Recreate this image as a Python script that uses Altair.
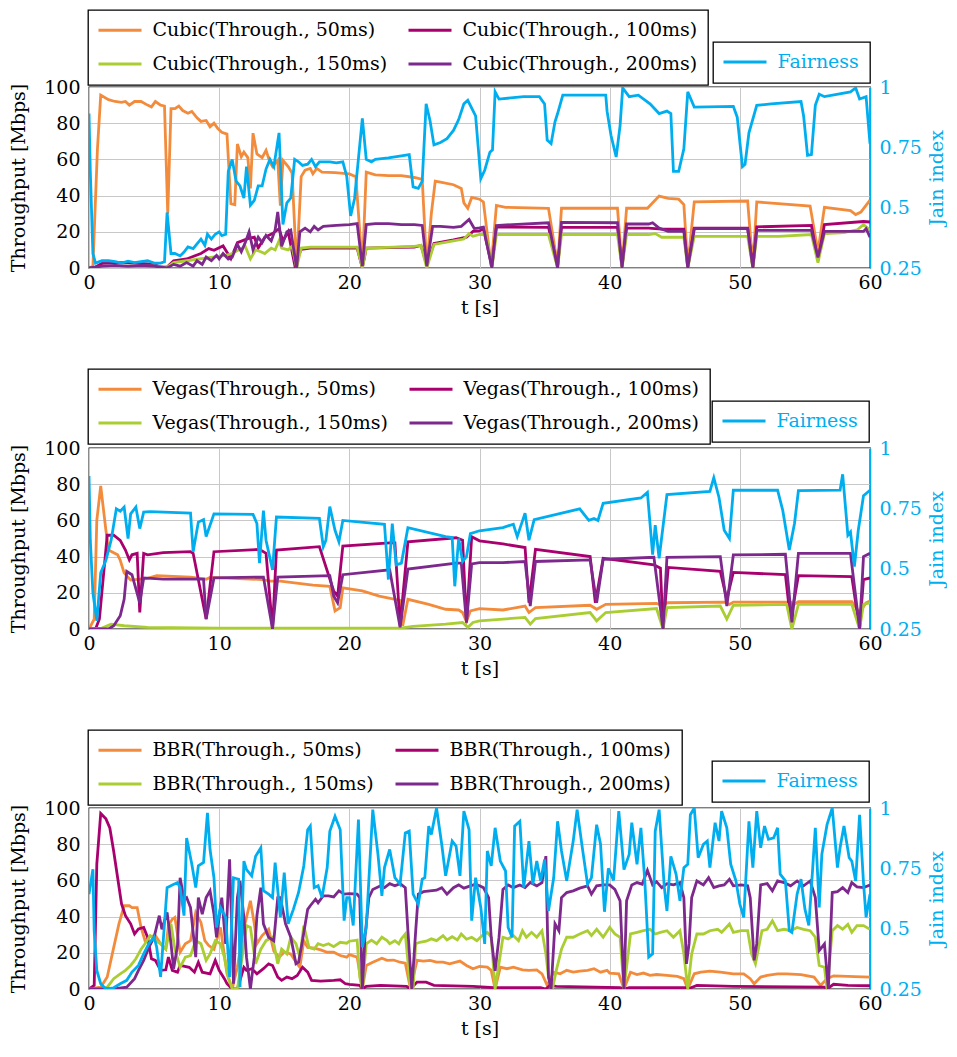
import altair as alt
import pandas as pd

FONT = "DejaVu Serif"
BLUE = "#00AEEF"
COLORS = ["#F28C3C", "#A8006E", "#AACD32", "#7D288C"]
DELAYS = ["50ms", "100ms", "150ms", "200ms"]
X_TICKS = [0, 10, 20, 30, 40, 50, 60]
Y_TICKS = [0, 20, 40, 60, 80, 100]
J_TICKS = [0.25, 0.5, 0.75, 1]

# ---------------- Cubic ----------------
CUBIC_50 = [(0,0),(0.3,1),(0.65,66),(0.9,95.5),(1.5,93),(2.0,92),(2.5,91.5),(2.8,92),(3.1,90),(3.5,92),(4.0,92),(4.5,90),(4.8,89),(5.1,92),(5.5,90),(5.8,89.5),(6.05,30),(6.3,88),(6.6,88),(6.9,89.5),(7.2,87),(7.6,85.5),(7.9,86.5),(8.3,83),(8.6,81),(9.0,81.5),(9.3,78),(9.6,80),(9.9,77),(10.2,75),(10.6,74),(10.9,35.5),(11.2,35),(11.4,68.5),(11.7,61.5),(11.9,64),(12.2,61),(12.4,44),(12.6,74.5),(12.9,63),(13.3,61),(13.6,65),(13.9,58.5),(14.1,56),(14.5,59.5),(14.7,34.5),(14.9,59.5),(15.3,56),(15.6,52.5),(15.95,0),(16.3,50.5),(16.6,54),(17.0,55),(17.2,52),(17.5,55),(17.9,53),(18.9,52.7),(20.0,52),(20.5,50.5),(21.0,0),(21.3,53),(22.0,51.5),(23.0,51),(24.0,51),(25.0,50),(25.6,49),(25.95,0),(26.3,30),(26.6,48),(27.0,47.5),(28.0,46),(28.6,44),(28.8,36),(29.1,33),(29.4,39),(30.0,38),(30.3,36.5),(30.9,1),(31.3,34.6),(32.0,33.5),(35.3,33),(36.0,1.5),(36.3,33),(40.6,33),(40.95,1.5),(41.3,33),(42.9,33),(43.8,39.7),(44.5,38.5),(45.3,38),(45.7,35),(46.0,1),(46.5,36.5),(50.6,37),(51.0,1),(51.3,36.5),(55.4,34.2),(56.0,9),(56.5,33.5),(58.5,31.7),(58.9,29.5),(59.3,30.9),(60.0,37.5)]
CUBIC_100 = [(0,0),(0.5,0.5),(1.0,2.5),(2.0,3),(3.0,3),(4.0,2.5),(5.0,2),(5.5,0.5),(6.0,0.5),(6.5,4),(7.5,5),(8.6,8),(9.2,10.7),(9.6,9.8),(10.3,12.2),(10.9,5.2),(11.4,14),(12.2,16.2),(12.7,17),(13.0,11),(13.5,17),(14.1,19),(14.6,21.7),(14.9,15),(15.3,20),(15.8,1.8),(16.3,10.3),(17.0,11),(20.6,11),(21.0,0),(21.3,11),(25.0,11.6),(25.5,12.5),(25.95,2),(26.5,13.5),(28.0,15.5),(29.0,17),(29.5,20.2),(30.0,20.5),(30.3,21.7),(30.95,1),(31.3,22.6),(35.3,22.5),(36.0,1),(36.3,22.5),(40.6,22.5),(40.95,1),(41.3,22),(43.0,22),(44.0,21.5),(45.7,21.5),(46.0,0.5),(46.5,22),(50.6,22),(51.0,0.5),(51.3,22.7),(55.5,23.5),(56.0,4),(56.5,24),(59.5,25.7),(60.0,25.4)]
CUBIC_150 = [(0,0),(1,0.5),(3,1),(5,1),(6,0.5),(6.5,3),(7.5,4),(8.5,5),(9.5,6),(10.5,7),(11.0,8),(11.5,10),(12.0,12),(12.4,5),(12.8,10),(13.2,9),(13.5,8),(14.0,11),(14.3,10),(14.6,15),(14.8,11),(15.3,10),(15.6,12),(15.95,0),(16.3,11),(17,11.5),(20.6,11.5),(21.0,0),(21.3,11),(25.0,12),(25.5,12.5),(25.95,0),(26.5,13),(28.0,15),(28.8,16),(29.2,19),(29.5,17.5),(30.0,18.5),(30.5,18.5),(30.95,0),(31.3,18.5),(35.3,18.5),(36.0,0),(36.3,18.5),(40.6,18.5),(40.95,0),(41.3,18.5),(43.0,18.5),(43.5,19),(44.0,17),(45.7,17),(46.0,0),(46.5,17.5),(50.6,17.5),(51.0,0),(51.3,17.5),(53.0,17.5),(55.5,18.5),(56.0,3),(56.5,19),(58.0,19.5),(59.0,21),(59.5,24),(60.0,21)]
CUBIC_200 = [(0,0),(1,1),(2,1.5),(3,1),(4,1.5),(5,1),(6,0),(6.5,2),(7.0,1),(7.5,3),(8.0,1),(8.3,4),(8.7,2),(9.0,6),(9.4,4),(9.8,7),(10.0,5),(10.3,8),(10.7,5),(11.0,6),(11.4,13),(11.7,9),(12.0,14),(12.3,20),(12.6,10),(13.0,17),(13.3,14),(13.6,18),(14.0,15),(14.3,21),(14.5,31),(14.8,12),(15.2,20),(15.5,21),(15.95,0),(16.2,20),(16.6,22),(17.0,20),(17.3,23),(17.6,21),(18.0,23),(19.0,23.5),(20.0,24),(20.6,24.5),(21.0,1),(21.3,24),(22.0,24.5),(23.0,24.5),(24.0,24),(25.0,24),(25.6,23.5),(25.95,1),(26.4,23),(27.0,23),(28.0,22.5),(28.6,23),(29.2,26.8),(29.6,21.8),(30.0,22.2),(30.3,22.6),(30.95,0),(31.3,23.5),(35.3,25),(36.0,0),(36.3,25.2),(40.6,25),(40.95,0),(41.3,24.3),(43.0,24.3),(43.3,25),(43.8,22),(44.5,20.2),(45.7,20.2),(46.0,0),(46.5,21.7),(50.6,21.7),(51.0,0),(51.3,20.8),(55.5,20.8),(56.0,5.8),(56.5,20.2),(59.5,20.2),(59.7,21.7),(60.0,17)]
CUBIC_FAIR = [(0,0.89),(0.1,0.65),(0.3,0.31),(0.5,0.27),(1.0,0.28),(1.5,0.28),(2.0,0.276),(2.5,0.27),(3.0,0.278),(3.5,0.272),(4.0,0.276),(4.5,0.28),(5.0,0.27),(5.5,0.27),(5.8,0.276),(6.0,0.48),(6.3,0.31),(6.6,0.31),(7.0,0.30),(7.3,0.316),(7.6,0.337),(8.0,0.33),(8.3,0.35),(8.6,0.37),(8.9,0.344),(9.1,0.39),(9.4,0.37),(9.7,0.39),(10.0,0.40),(10.2,0.384),(10.5,0.39),(10.7,0.65),(11.0,0.70),(11.3,0.61),(11.6,0.59),(11.9,0.54),(12.1,0.67),(12.4,0.51),(12.7,0.53),(13.0,0.59),(13.3,0.59),(13.6,0.66),(13.9,0.70),(14.2,0.67),(14.6,0.81),(14.9,0.43),(15.2,0.52),(15.5,0.54),(15.8,0.70),(16.1,0.69),(16.4,0.675),(16.8,0.68),(17.1,0.70),(17.4,0.67),(17.7,0.69),(18.0,0.69),(18.5,0.69),(19.0,0.686),(19.5,0.69),(19.8,0.63),(20.1,0.466),(20.4,0.537),(21.0,0.87),(21.3,0.70),(21.7,0.69),(22.0,0.70),(23.0,0.706),(24.0,0.715),(24.6,0.72),(24.9,0.586),(25.3,0.58),(25.6,0.61),(25.9,0.93),(26.2,0.86),(26.5,0.76),(27.0,0.77),(27.5,0.786),(28.0,0.82),(28.4,0.865),(28.8,0.93),(29.1,0.945),(29.7,0.88),(30.1,0.62),(30.4,0.655),(30.8,0.73),(31.0,0.74),(31.2,0.98),(31.5,0.95),(33.4,0.96),(34.6,0.96),(35.0,0.93),(35.2,0.78),(35.5,0.766),(35.8,0.856),(36.0,0.89),(36.4,0.966),(39.7,0.966),(39.8,0.90),(40.1,0.80),(40.5,0.71),(40.8,0.84),(41.0,0.996),(41.5,0.96),(42.2,0.966),(43.1,0.93),(43.8,0.89),(44.4,0.90),(44.7,0.89),(44.9,0.65),(45.3,0.65),(45.7,0.744),(46.0,0.98),(46.5,0.917),(49.5,0.92),(49.8,0.875),(50.2,0.67),(50.4,0.68),(50.7,0.81),(51.3,0.924),(52.4,0.93),(54.7,0.94),(54.9,0.88),(55.2,0.717),(55.5,0.72),(55.8,0.924),(56.1,0.97),(56.5,0.96),(58.5,0.98),(58.9,0.996),(59.2,0.95),(59.7,0.96),(60.0,0.765)]

# ---------------- Vegas ----------------
VEGAS_50 = [(0,0),(0.4,5.5),(0.6,60),(0.9,79),(1.3,54.5),(1.5,43.6),(2.2,41),(2.4,38),(2.7,31),(3.2,27),(4.5,28),(5.2,29.5),(7.8,28.7),(9.0,27.5),(9.3,28.5),(13.4,27.3),(13.9,26.4),(14.7,26.4),(17.2,24.2),(18.5,23.6),(18.9,10),(19.3,11.8),(19.5,22.7),(21.0,21),(22.3,18.2),(23.9,15.8),(24.1,1.8),(24.5,16.4),(26.1,13.6),(27.4,10.9),(28.4,10.5),(28.7,9.1),(29.0,4),(29.3,10),(30.0,11.3),(31.8,10.5),(33.5,12.7),(33.8,9.1),(34.3,11.8),(38.5,13.1),(39.0,10.9),(39.7,13.6),(43.6,14.2),(44.1,12.7),(44.4,14.5),(48.8,14.9),(49.2,13.6),(49.5,14.9),(53.9,14.9),(54.0,12.7),(54.5,15.1),(58.6,15.1),(59.2,9.1),(59.7,14.5),(60.0,15.5)]
VEGAS_100 = [(0,0),(0.5,0),(0.8,5.5),(1.4,51.8),(1.9,51.8),(2.4,49),(2.8,43.6),(3.1,38.2),(3.3,41),(3.7,41.8),(3.9,9.1),(4.2,41.8),(4.5,41),(5.7,42.2),(7.8,42.7),(8.0,41.8),(9.0,5.5),(9.6,42.7),(13.1,44),(13.6,41.8),(14.1,0),(14.4,43.6),(17.7,45.5),(18.8,21),(19.1,18.2),(19.5,45.8),(23.1,47.6),(23.5,47.6),(23.9,1.8),(24.5,48.2),(28.2,50.4),(28.7,49),(29.0,3.6),(29.4,51),(30.0,48.7),(31.8,47),(33.5,45),(33.8,14.5),(34.3,44),(38.5,40),(38.9,14.5),(39.5,39),(43.4,35.5),(43.9,33.6),(44.1,0),(44.5,34),(48.5,31.8),(49.0,16.4),(49.5,31.3),(53.5,30),(53.9,4.5),(54.5,29.5),(58.6,29),(59.2,0),(59.5,27.3),(60.0,28.2)]
VEGAS_150 = [(0,0),(1.0,0.5),(1.7,2.7),(2.7,1.8),(4.5,0.9),(10,0.5),(20,0.5),(23.9,0.5),(24.9,1.5),(27.4,2.7),(28.7,3.6),(29.1,0.9),(29.5,3.6),(30.0,4.5),(33.5,6.4),(33.9,2.7),(34.3,5.8),(38.5,9.1),(39.0,4.5),(39.7,9.1),(43.6,11.3),(44.1,0),(44.4,11.8),(48.5,12.7),(49.0,5.5),(49.5,13.1),(53.6,13.6),(54.0,0),(54.5,13.6),(58.6,13.6),(59.2,0),(59.5,13.6),(60.0,14.5)]
VEGAS_200 = [(0,0),(1.5,0),(1.9,1.8),(2.4,7.3),(2.7,16.4),(2.9,31.8),(3.3,30),(3.9,14.5),(4.2,28.2),(5.7,27.6),(8.8,27.6),(9.0,5.5),(9.6,28.2),(13.4,28.7),(14.1,0),(14.5,28.7),(18.5,29.5),(18.8,18.2),(19.1,14.5),(19.5,30),(23.1,32.7),(23.9,0.9),(24.5,33.1),(28.2,36.4),(28.6,36.4),(29.0,3.6),(29.4,36),(30.0,36.7),(31.8,36.7),(33.5,37.3),(33.9,12.7),(34.3,37.3),(38.5,38.2),(39.0,14.5),(39.5,38.5),(43.4,39.6),(44.1,0),(44.4,39.6),(48.5,40),(49.0,12.7),(49.5,40.9),(53.5,41.3),(54.0,3.6),(54.5,41.8),(58.5,41.8),(59.2,0),(59.5,40),(60.0,41.8)]
VEGAS_FAIR = [(0,0.884),(0.1,0.618),(0.3,0.40),(0.6,0.284),(0.9,0.483),(1.3,0.535),(1.7,0.618),(2.1,0.748),(2.4,0.738),(2.7,0.755),(3.0,0.625),(3.2,0.727),(3.6,0.755),(3.9,0.666),(4.2,0.734),(4.7,0.736),(7.8,0.73),(8.0,0.57),(8.4,0.693),(8.8,0.703),(9.0,0.633),(9.6,0.727),(12.6,0.725),(12.9,0.687),(13.1,0.523),(13.4,0.741),(13.6,0.618),(14.1,0.495),(14.4,0.714),(17.7,0.708),(18.0,0.591),(18.2,0.618),(18.5,0.757),(18.9,0.659),(19.2,0.612),(19.5,0.70),(22.7,0.684),(23.0,0.455),(23.3,0.687),(23.6,0.516),(24.0,0.523),(24.5,0.67),(27.4,0.633),(27.9,0.629),(28.1,0.427),(28.4,0.625),(28.7,0.53),(29.0,0.55),(29.3,0.645),(30.0,0.657),(31.8,0.67),(32.6,0.684),(32.9,0.633),(33.5,0.73),(33.8,0.618),(34.2,0.703),(37.7,0.748),(38.4,0.70),(38.8,0.708),(39.1,0.70),(39.5,0.771),(42.4,0.793),(42.9,0.816),(43.3,0.558),(43.5,0.68),(43.8,0.543),(44.4,0.807),(47.7,0.82),(48.0,0.877),(48.4,0.795),(48.8,0.659),(49.2,0.625),(49.5,0.825),(52.9,0.825),(53.3,0.741),(53.8,0.577),(54.2,0.687),(54.5,0.823),(57.7,0.825),(57.9,0.891),(58.3,0.639),(58.5,0.652),(58.8,0.509),(59.1,0.659),(59.5,0.802),(60.0,0.825)]

# ---------------- BBR ----------------
BBR_50 = [(0,0),(0.9,1),(1.4,6.6),(1.9,23),(2.3,36),(2.7,46),(3.1,46),(3.3,45),(3.7,45),(4.0,34),(4.3,26.7),(4.7,29),(5.1,29.5),(5.5,25),(5.9,22),(6.1,35),(6.4,38.6),(6.6,39.6),(7.0,20.3),(7.4,25),(7.8,26.7),(8.2,42.3),(8.6,36.8),(8.9,26.7),(9.2,24),(9.6,22),(10.1,34),(10.6,8.4),(11.0,0),(11.4,12),(11.8,30.4),(12.1,39.6),(12.4,48.7),(12.7,36),(12.9,25),(13.3,29.5),(13.8,33),(14.2,21),(14.6,17.6),(15.0,20.3),(15.5,19.4),(16.0,13.9),(16.2,12),(16.5,26.7),(16.8,23),(17.3,22.6),(17.8,21.6),(18.3,20.3),(18.8,20.3),(19.3,18.5),(19.8,17.6),(20.0,19),(20.6,17.6),(21.0,0),(21.3,13),(21.8,14.8),(22.5,17),(22.9,15.8),(23.4,16),(23.9,14.8),(24.3,14.3),(24.7,0),(25.2,15.8),(25.7,15.4),(26.2,15.8),(26.7,14.8),(27.2,14.8),(27.7,13.9),(28.5,15.4),(29.0,13),(29.5,11.2),(30.0,12.5),(30.6,12.1),(30.9,10.3),(31.2,0),(31.6,12.1),(32.1,11.2),(32.6,12.1),(33.3,10.6),(33.8,10.3),(34.4,10.6),(34.8,8.4),(35.2,2),(35.7,9.3),(36.2,8.4),(36.7,10.3),(37.2,9.3),(37.7,9.9),(38.3,10.3),(38.8,11.2),(39.3,9.3),(39.8,10.3),(40.0,8.8),(40.7,8.4),(41.1,0),(41.6,9.3),(42.1,8),(42.6,8.8),(43.1,7.5),(43.6,8),(44.4,7.5),(45.2,7),(45.7,5.7),(46.0,0),(46.5,8.4),(47.0,9.3),(47.7,9.9),(48.5,9.3),(49.5,8.4),(50.3,8.4),(50.8,5.7),(51.1,2.9),(51.6,6.6),(52.1,7.5),(52.9,8.4),(53.6,8.4),(54.7,8),(55.7,6.6),(56.2,2),(56.7,5.7),(57.2,7.3),(58.3,7),(60.0,6.6)]
BBR_100 = [(0,0),(0.4,2),(0.6,69),(0.9,97),(1.3,94),(1.6,89),(1.9,76),(2.2,61.5),(2.5,47),(2.8,40.5),(3.2,36),(3.5,30.4),(3.8,33.2),(4.2,34),(4.5,28.6),(4.8,16.7),(5.1,15.8),(5.5,10.3),(5.9,10.6),(6.1,17.6),(6.4,10.3),(6.8,9.3),(7.0,13),(7.7,12),(8.1,9.3),(8.4,14.8),(8.7,9.3),(9.3,8.4),(9.7,15.8),(10.0,10.3),(10.4,5.7),(10.6,2.9),(11.0,0),(11.4,0),(11.9,12),(12.1,10.3),(12.5,11.2),(12.9,8.4),(13.4,11.2),(13.8,13.9),(14.1,13),(14.5,6.6),(14.8,4.8),(15.2,6.6),(15.6,5.7),(16.0,7.5),(16.4,12),(16.8,9.3),(17.1,4.8),(17.8,4.4),(18.8,4.8),(19.3,5.1),(19.7,2.9),(20.0,2.6),(20.8,2),(21.0,0),(21.3,1.5),(22.4,2),(24.4,1.5),(24.7,0),(25.2,3.8),(25.9,3.8),(26.5,2),(29.5,1.5),(31.1,0.7),(34.7,0.7),(35.1,0),(35.4,2),(35.9,1.5),(40.8,0.7),(41.1,0),(41.5,0.7),(45.8,0.7),(46.0,0),(46.7,2),(49.5,1.5),(56.5,1),(56.7,0),(57.2,2.6),(58.3,2),(60,1.8)]
BBR_150 = [(0,0),(0.9,0),(1.4,1),(1.9,5.7),(2.4,8.4),(2.8,10.3),(3.2,13),(3.6,16.7),(4.0,22),(4.3,25),(4.7,29.5),(5.1,26.7),(5.5,25),(5.9,22),(6.3,36),(6.6,22),(7.0,12),(7.4,17.6),(7.8,18.5),(8.2,26.7),(8.6,25),(9.0,15.8),(9.3,19.4),(9.7,26.7),(10.1,25),(10.4,17.6),(10.7,6.6),(11.0,0),(11.4,0),(11.8,19.4),(12.1,35),(12.4,34),(12.8,13.9),(13.2,22),(13.6,26.7),(14.1,28.6),(14.5,13.9),(14.8,22),(15.2,19.4),(15.5,28.6),(15.9,25),(16.2,17.6),(16.5,35),(16.9,23),(17.3,22),(17.6,25),(18.0,24),(18.4,25),(18.8,23.4),(19.3,25.8),(19.8,25.3),(20.0,26.4),(20.6,27),(20.8,6.6),(21.0,0),(21.3,25),(21.7,27),(22.1,25),(22.5,28.6),(22.9,26.7),(23.1,25),(23.5,26.7),(23.8,25),(24.0,27.7),(24.3,30.4),(24.7,0),(24.9,0),(25.1,25),(25.4,25.8),(25.9,26.4),(26.3,27.7),(26.7,26.7),(27.2,29.5),(27.5,27.1),(27.9,28.9),(28.3,27.1),(28.6,30.4),(29.0,27.5),(29.4,28.6),(29.8,26.7),(30.2,29.5),(30.6,31.3),(30.9,28.6),(31.2,0),(31.8,28.6),(32.2,27.7),(32.6,29.5),(33.0,26.7),(33.3,32.2),(33.6,28.6),(34.0,31.3),(34.4,28.6),(34.8,32.2),(35.1,19.4),(35.3,6.6),(35.6,0),(35.9,10.3),(36.3,22),(36.7,28.6),(37.2,28.6),(37.7,30.4),(38.3,32.2),(38.6,29.5),(39.0,33),(39.5,28.6),(40.0,34),(40.4,30.4),(40.8,28.6),(41.1,0),(41.6,30.4),(42.1,31.3),(42.6,32.2),(43.1,33),(43.5,30.4),(43.9,31.3),(44.4,32.2),(44.9,28.6),(45.4,32.2),(45.7,19.4),(46.0,0),(46.3,19.4),(46.7,30.4),(47.2,30.4),(47.7,32.2),(48.3,33),(48.6,31.3),(49.2,35.9),(49.5,31.3),(50.1,32.2),(50.6,32.2),(50.9,19.4),(51.2,13.9),(51.7,32.2),(52.1,33),(52.5,37.7),(52.9,32.2),(53.4,33),(53.9,32.2),(54.4,34),(54.9,33),(55.4,32.2),(55.8,28.6),(56.1,13),(56.5,12),(56.7,0),(57.1,32.2),(57.5,35),(57.9,33),(58.3,35.7),(58.6,31.3),(59.0,35),(59.5,35),(60.0,33)]
BBR_200 = [(0,0),(1.9,0),(2.9,1),(3.5,5.7),(3.8,10.3),(4.2,15.8),(4.6,23),(5.0,28.6),(5.4,40.5),(5.6,33),(6.0,42.3),(6.3,25),(6.5,11.2),(6.8,24),(7.0,61.5),(7.3,49.6),(7.5,50.5),(7.8,45),(8.2,17.6),(8.4,50.5),(8.7,41.4),(9.0,50.5),(9.3,54.2),(9.6,41.4),(9.8,28.6),(10.2,50.5),(10.5,24.9),(10.8,71.6),(11.1,2.9),(11.4,50.5),(11.6,59.7),(11.9,39.6),(12.1,17.6),(12.4,0),(12.7,17.6),(12.9,40.5),(13.2,56),(13.4,36),(13.8,28.6),(14.2,26.7),(14.5,50.5),(14.7,50.5),(15.1,36),(15.5,28.6),(15.9,13.9),(16.1,14.8),(16.4,26.7),(16.8,44),(17.0,46),(17.4,49.6),(17.6,47.6),(18.0,51.5),(18.4,51.5),(18.8,50.9),(19.2,54.2),(19.6,52.4),(20.0,52.7),(20.6,52.4),(20.8,50.5),(21.0,0),(21.2,28.6),(21.5,50.5),(21.8,55),(22.4,57),(22.7,56),(23.1,58.2),(23.5,57),(23.9,58.2),(24.3,56),(24.5,32.2),(24.8,0),(25.1,32.2),(25.3,52.4),(25.7,53.8),(26.2,54.2),(26.7,54.6),(27.1,56),(27.5,52.4),(28.0,56),(28.4,57.5),(28.8,55.7),(29.3,57),(29.7,57.9),(30.0,57),(30.3,56),(30.7,50.5),(30.9,28.6),(31.2,10),(31.5,28.6),(31.8,55),(32.2,57.5),(32.6,56),(33.1,57.5),(33.5,56),(33.9,58.8),(34.4,57),(34.8,58.8),(35.1,73.4),(35.3,6.6),(35.5,0),(35.8,36),(36.1,32.2),(36.3,50.5),(36.7,53.3),(37.2,54.2),(37.7,55.7),(38.3,57),(38.6,52.4),(39.0,57),(39.5,57.5),(40.0,57.5),(40.4,55),(40.8,48.7),(41.1,0),(41.3,48.7),(41.7,57.5),(42.1,58.8),(42.5,57.9),(42.9,65.6),(43.3,57.5),(43.6,59.3),(44.0,56),(44.4,58.2),(44.9,57.5),(45.4,58.8),(45.7,50.5),(45.9,13.9),(46.1,24.9),(46.3,50.5),(46.7,59.7),(47.2,57.5),(47.6,61.5),(48.0,56),(48.4,57),(48.8,57.5),(49.2,60.6),(49.5,57),(50.1,57.5),(50.6,57),(50.8,50.5),(51.1,15.8),(51.3,24.9),(51.6,57.5),(52.1,58.2),(52.5,54.2),(52.9,59.7),(53.4,58.8),(53.9,57),(54.4,59.7),(54.9,57),(55.4,59.7),(55.8,50.5),(56.1,21.2),(56.5,24.9),(56.8,0),(57.1,53.3),(57.5,53.8),(57.9,56),(58.3,53.3),(58.6,58.8),(59.0,56.4),(59.5,56),(60.0,57.5)]
BBR_FAIR = [(0,0.643),(0.3,0.746),(0.4,0.49),(0.6,0.327),(0.9,0.272),(1.3,0.25),(1.9,0.255),(2.4,0.272),(2.9,0.286),(3.3,0.32),(3.8,0.348),(4.2,0.396),(4.6,0.438),(5.0,0.465),(5.2,0.423),(5.5,0.30),(6.0,0.67),(6.4,0.681),(6.8,0.691),(7.0,0.67),(7.3,0.554),(7.5,0.876),(7.9,0.767),(8.2,0.67),(8.4,0.76),(8.8,0.774),(9.1,0.98),(9.3,0.828),(9.6,0.711),(9.8,0.505),(10.1,0.588),(10.5,0.547),(10.8,0.30),(11.1,0.711),(11.5,0.705),(11.6,0.258),(11.9,0.78),(12.1,0.745),(12.5,0.719),(12.8,0.80),(13.2,0.835),(13.4,0.657),(13.8,0.643),(14.1,0.629),(14.3,0.774),(14.7,0.547),(15.0,0.732),(15.3,0.52),(15.7,0.58),(16.1,0.65),(16.5,0.76),(16.8,0.91),(17.0,0.925),(17.3,0.67),(17.6,0.678),(17.9,0.629),(18.3,0.753),(18.5,0.904),(18.9,0.966),(19.3,0.91),(19.6,0.533),(19.8,0.629),(20.0,0.629),(20.3,0.513),(20.7,0.952),(21.0,0.423),(21.3,0.505),(21.8,0.993),(22.2,0.808),(22.5,0.636),(22.7,0.753),(23.1,0.828),(23.5,0.711),(23.9,0.684),(24.3,0.897),(24.6,0.904),(24.9,0.643),(25.3,0.602),(25.6,0.705),(25.8,0.711),(26.1,0.925),(26.3,0.89),(26.7,1.0),(27.1,0.849),(27.4,0.719),(27.9,0.863),(28.2,0.842),(28.5,0.719),(28.8,0.987),(29.2,0.91),(29.4,0.533),(29.7,0.711),(30.1,0.588),(30.4,0.437),(30.6,0.822),(30.9,0.76),(31.2,0.918),(31.6,0.78),(32.0,0.739),(32.2,0.505),(32.5,0.465),(32.7,0.925),(33.1,0.945),(33.4,0.67),(33.8,0.863),(34.1,0.684),(34.4,0.78),(34.7,0.698),(35.0,0.787),(35.3,0.574),(35.7,0.711),(36.0,0.945),(36.3,0.822),(36.7,0.698),(37.2,0.863),(37.5,0.993),(37.9,0.835),(38.3,0.684),(38.6,0.711),(39.0,0.931),(39.3,0.85),(39.6,0.57),(39.9,0.75),(40.3,0.70),(40.7,0.987),(41.1,0.745),(41.5,0.808),(41.7,0.939),(42.1,0.767),(42.4,0.918),(42.7,0.698),(43.0,0.382),(43.3,0.396),(43.5,0.904),(43.8,0.993),(44.2,0.67),(44.4,0.574),(44.7,0.80),(45.1,0.726),(45.4,0.615),(45.7,0.753),(46.0,0.767),(46.2,0.972),(46.5,1.0),(46.8,0.794),(47.2,0.849),(47.5,0.863),(47.7,0.753),(48.1,0.939),(48.4,0.863),(48.6,0.987),(49.0,0.918),(49.3,0.767),(49.7,0.698),(50.0,0.602),(50.3,0.547),(50.7,0.945),(51.0,0.753),(51.3,0.987),(51.6,0.835),(51.9,0.925),(52.2,0.87),(52.6,0.876),(52.9,0.918),(53.1,0.726),(53.5,0.698),(53.8,0.492),(54.0,0.485),(54.4,0.643),(54.7,0.705),(55.0,0.581),(55.3,0.513),(55.6,0.753),(55.8,0.918),(56.1,0.588),(56.3,0.808),(56.7,0.931),(57.1,1.0),(57.5,0.753),(57.7,0.835),(58.0,0.925),(58.4,0.794),(58.6,0.78),(58.9,0.698),(59.2,0.972),(59.5,0.691),(59.7,0.547),(60.0,0.643)]

# legend symbol: a 43px horizontal stroke drawn with a small symbol size
LEGEND_SYMBOL = "M-4.3,0H4.3"
LEGEND_STYLE = dict(title=None, strokeColor="black", fillColor="white", padding=10.5,
                    symbolType=LEGEND_SYMBOL, symbolSize=100, symbolStrokeWidth=3,
                    symbolOffset=12, labelOffset=23, labelLimit=400)


def make_panel(proto, series, fair, main_legend_xy, fair_legend_xy):
    labels = [f"{proto}(Through., {d})" for d in DELAYS]
    thr_rows = []
    for lab, pts in zip(labels, series):
        for t, v in pts:
            thr_rows.append({"t": t, "v": v, "s": lab})
    thr_df = pd.DataFrame(thr_rows)
    fair_df = pd.DataFrame([{"t": t, "j": j, "f": "Fairness"} for t, j in fair])

    x_enc = alt.X(
        "t:Q",
        scale=alt.Scale(domain=[0, 60], nice=False, zero=False),
        axis=alt.Axis(values=X_TICKS, format="d", title="t [s]", grid=True,
                      labelFlush=False, labelPadding=5, titlePadding=6),
    )
    thr = alt.Chart(thr_df).mark_line(strokeWidth=2.8, clip=True).encode(
        x=x_enc,
        y=alt.Y("v:Q", scale=alt.Scale(domain=[0, 100], nice=False),
                axis=alt.Axis(values=Y_TICKS, title="Throughput [Mbps]", grid=True,
                              labelPadding=9, titlePadding=15)),
        color=alt.Color("s:N", scale=alt.Scale(domain=labels, range=COLORS),
                        legend=alt.Legend(orient="none", legendX=main_legend_xy[0],
                                          legendY=main_legend_xy[1], columns=2,
                                          direction="horizontal",
                                          columnPadding=15, rowPadding=14, **LEGEND_STYLE)),
    )
    fairl = alt.Chart(fair_df).mark_line(strokeWidth=2.8, clip=True).encode(
        x=x_enc,
        y=alt.Y("j:Q", scale=alt.Scale(domain=[0.25, 1], nice=False, zero=False),
                axis=alt.Axis(orient="right", values=J_TICKS,
                              labelExpr="format(datum.value, '.2~f')", title="Jain index",
                              titleAngle=270, grid=False, labelColor=BLUE, titleColor=BLUE,
                              domain=True, domainColor=BLUE, domainWidth=1.5,
                              labelPadding=9, titlePadding=25)),
        color=alt.Color("f:N", scale=alt.Scale(domain=["Fairness"], range=[BLUE]),
                        legend=alt.Legend(orient="none", legendX=fair_legend_xy[0],
                                          legendY=fair_legend_xy[1], labelColor=BLUE,
                                          **LEGEND_STYLE)),
    )
    return alt.layer(thr, fairl).resolve_scale(y="independent", color="independent").properties(
        width=781, height=181)


p1 = make_panel("Cubic", [CUBIC_50, CUBIC_100, CUBIC_150, CUBIC_200], CUBIC_FAIR, (-1, -77), (624, -45))
p2 = make_panel("Vegas", [VEGAS_50, VEGAS_100, VEGAS_150, VEGAS_200], VEGAS_FAIR, (-1, -79), (623, -47))
p3 = make_panel("BBR", [BBR_50, BBR_100, BBR_150, BBR_200], BBR_FAIR, (-1, -78), (623, -47))

chart = alt.vconcat(p1, p2, p3, spacing=49).resolve_scale(color="independent").properties(
    padding={"left": 1, "top": 0, "right": 0, "bottom": 0}
).configure_view(stroke="black", strokeWidth=1.3).configure_axis(
    labelFont=FONT, titleFont=FONT, labelFontSize=19, titleFontSize=19,
    titleFontWeight="normal", labelColor="black", titleColor="black",
    ticks=False, domain=False, gridColor="#c8c8c8", gridWidth=1,
).configure_legend(labelFont=FONT, labelFontSize=19, labelColor="black", strokeWidth=1.3)

chart.save("out.html", embed_options={"renderer": "svg", "actions": False})
